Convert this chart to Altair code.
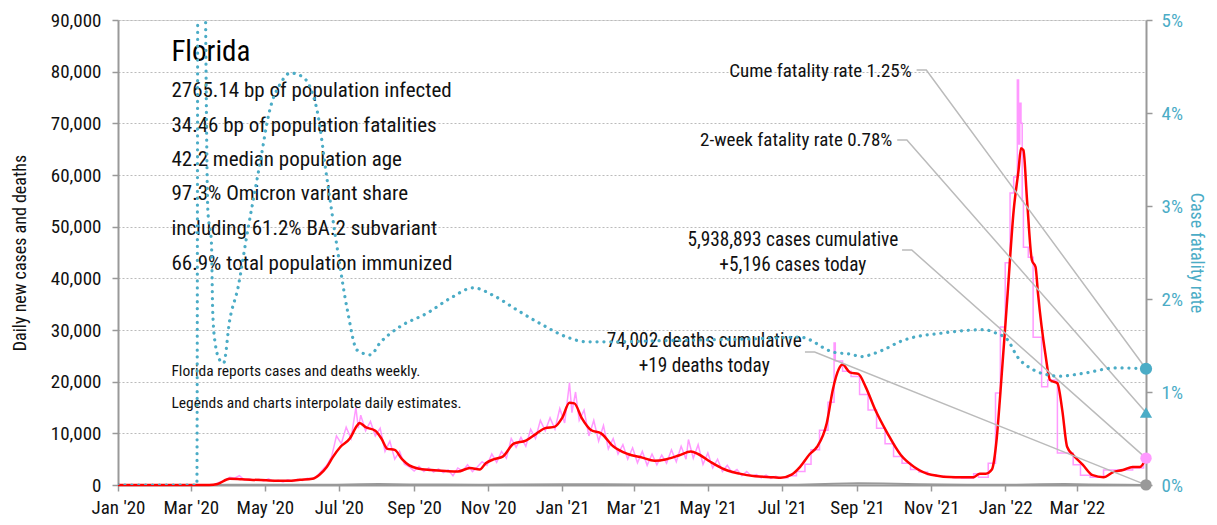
import altair as alt
import pandas as pd

BASE = pd.Timestamp("2020-01-01")


def to_dates(days):
    return [(BASE + pd.Timedelta(days=int(x))).strftime("%Y-%m-%d") for x in days]


# ---------------- data (day offsets from 2020-01-01) ----------------
red_days = [0, 75, 82, 92, 102, 122, 140, 150, 160, 166, 172, 177, 183, 191, 197, 199, 204, 212,
            217, 222, 228, 234, 240, 247, 258, 270, 280, 290, 298, 303, 310, 317, 326, 336, 345,
            352, 360, 366, 372, 376, 382, 390, 398, 408, 420, 432, 442, 452, 462, 472, 478, 488,
            500, 512, 525, 540, 546, 555, 562, 570, 576, 584, 589, 594, 597, 603, 610, 616, 624,
            634, 645, 656, 670, 690, 705, 710, 715, 720, 724, 727, 733, 738, 742, 744, 746, 749,
            753, 756, 758, 764, 768, 774, 778, 782, 787, 795, 803, 812, 820, 828, 836, 842, 847]
red_vals = [0, 0, 200, 1200, 1100, 900, 800, 1000, 1200, 2000, 3500, 5400, 7300, 9000, 11500,
            12000, 11200, 10500, 9000, 7000, 6800, 5000, 3800, 3200, 2900, 2700, 2600, 3300, 3000,
            4200, 5000, 5500, 8000, 8600, 10000, 11000, 11300, 13000, 15900, 15800, 13000, 10600,
            10000, 7500, 6000, 5300, 4700, 5000, 5700, 6500, 6000, 4500, 3000, 2200, 1700, 1500,
            1400, 2000, 3500, 6000, 7400, 12000, 18500, 22500, 23300, 21800, 21500, 19000, 14500,
            10000, 5800, 3500, 2000, 1500, 1500, 2200, 2200, 3000, 9000, 17800, 37100, 53200,
            61000, 65200, 64800, 55100, 43500, 42200, 37100, 25500, 20300, 19700, 14500, 7400,
            5800, 3900, 1900, 1500, 2500, 2900, 3500, 3500, 5196]

pink_days = [0, 78, 80, 84, 88, 92, 96, 100, 104, 108, 112, 116, 120, 124, 128, 132, 136, 140, 144,
             148, 152, 156, 160, 164, 168, 172, 176, 180, 184, 188, 192, 196, 198, 200, 204, 208,
             212, 216, 220, 224, 228, 232, 236, 240, 244, 248, 252, 256, 260, 264, 268, 272, 276,
             280, 284, 288, 292, 296, 300, 304, 308, 312, 316, 320, 324, 328, 332, 336, 340, 344,
             348, 352, 356, 360, 364, 368, 372, 374, 377, 380, 384, 388, 392, 396, 400, 404, 408,
             412, 416, 420, 424, 428, 432, 436, 440, 444, 448, 452, 456, 460, 464, 468, 470, 474,
             478, 482, 486, 490, 494, 498, 502, 506, 510, 514, 518, 522, 526, 530, 534, 538, 542,
             545]
pink_vals = [0, 0, 100, 600, 900, 1500, 1300, 1800, 1000, 1200, 900, 1100, 800, 1200, 700, 900,
             600, 1000, 700, 1100, 900, 1300, 1200, 1700, 2800, 3800, 5500, 9500, 8000, 11200,
             9000, 15000, 11000, 13500, 10500, 12300, 9500, 11000, 6500, 8500, 5000, 6500, 4000,
             3500, 2700, 3600, 2600, 3300, 2500, 3100, 2400, 2900, 1800, 3300, 2700, 3900, 2600,
             3500, 4500, 3800, 6000, 4400, 6500, 5200, 9000, 7300, 9200, 7500, 10800, 9000, 12500,
             10500, 13000, 10800, 14800, 12000, 19800, 14000, 18000, 12500, 14500, 9500, 12500,
             8500, 11500, 7000, 9000, 6000, 7800, 5000, 7200, 4300, 6500, 3800, 6000, 3900, 5800,
             4200, 6800, 4500, 7500, 5000, 8800, 5200, 7800, 4000, 6200, 3300, 5000, 2600, 3800,
             2400, 3000, 1800, 2600, 1700, 2000, 1400, 1900, 1300, 1700, 1400]

step_days = [545, 552, 559, 566, 571, 578, 585, 590, 591, 597, 604, 611, 618, 625, 632, 639, 646,
             653, 660, 667, 674, 681, 688, 695, 702, 705, 709, 717, 723, 727, 731, 735, 738, 741,
             742, 743, 744, 745, 746, 750, 754, 761, 766, 774, 787, 793, 801, 812, 836, 845, 847]
step_vals = [1400, 1800, 2600, 4000, 6800, 10600, 16000, 27500, 24000, 22000, 21000, 17500, 14500,
             11000, 8000, 5500, 4200, 3000, 2500, 2000, 1700, 1500, 1400, 1300, 1300, 2200, 1500,
             4200, 17800, 30600, 43000, 56500, 59600, 78400, 66000, 73900, 70000, 55000, 46000,
             44100, 28600, 19000, 20300, 6200, 3900, 1900, 1500, 2900, 3300, 5196, 5196]

death_days = [0, 75, 90, 110, 150, 180, 200, 215, 240, 270, 300, 330, 370, 400, 430, 470, 520,
              560, 590, 610, 630, 660, 700, 740, 760, 780, 800, 830, 847]
death_vals = [0, 0, 30, 50, 40, 60, 150, 180, 120, 90, 60, 90, 160, 150, 100, 60, 40, 60, 250,
              350, 300, 150, 40, 60, 150, 200, 100, 40, 19]

cfr_days = [0, 65, 66, 71, 72, 74, 77, 78, 80, 84, 87, 92, 99, 106, 117, 125, 134, 142, 152, 164,
            172, 180, 189, 197, 208, 216, 232, 255, 274, 293, 309, 329, 350, 370, 386, 411, 440,
            480, 520, 562, 589, 606, 611, 630, 644, 653, 677, 713, 724, 733, 741, 754, 768, 776,
            795, 823, 847]
cfr_vals = [0, 0, 7.0, 7.0, 5.3, 2.96, 2.6, 1.88, 1.53, 1.34, 1.31, 1.77, 2.13, 2.67, 3.46, 4.03,
            4.32, 4.43, 4.39, 4.03, 3.31, 2.60, 1.88, 1.45, 1.40, 1.53, 1.70, 1.85, 2.01, 2.12,
            2.04, 1.88, 1.72, 1.59, 1.54, 1.54, 1.55, 1.56, 1.57, 1.59, 1.43, 1.40, 1.38, 1.45,
            1.54, 1.58, 1.63, 1.67, 1.63, 1.56, 1.38, 1.24, 1.18, 1.17, 1.20, 1.26, 1.25]

# x tick marks: (year, month) every two months
x_ticks = [(2020, 1), (2020, 3), (2020, 5), (2020, 7), (2020, 9), (2020, 11),
           (2021, 1), (2021, 3), (2021, 5), (2021, 7), (2021, 9), (2021, 11),
           (2022, 1), (2022, 3)]
y_ticks = [0, 10000, 20000, 30000, 40000, 50000, 60000, 70000, 80000, 90000]
p_ticks = [0, 1, 2, 3, 4, 5]

# info block (left)
info_text = ["2765.14 bp of population infected", "34.46 bp of population fatalities",
             "42.2 median population age", "97.3% Omicron variant share",
             "including 61.2% BA.2 subvariant", "66.9% total population immunized"]
info_y = [76250, 69480, 62900, 56320, 49550, 42770]
note_text = ["Florida reports cases and deaths weekly.",
             "Legends and charts interpolate daily estimates."]
note_y = [22060, 15870]
title_text = "Florida"
title_y = 83800
block_day = 44

# right-side annotations
rate_text = ["Cume fatality rate 1.25%", "2-week fatality rate 0.78%"]
rate_day = [654, 638]
rate_y = [80130, 66770]
total_text = ["5,938,893 cases cumulative", "+5,196 cases today",
              "74,002 deaths cumulative", "+19 deaths today"]
total_day = [556, 556, 483, 483]
total_y = [47420, 42580, 27870, 23030]

# leader lines: start, elbow, end
leader_group = ["cfr", "cfr", "cfr", "cfr2", "cfr2", "cfr2", "cases", "cases", "cases",
                "deaths", "deaths", "deaths"]
leader_day = [658, 666, 847, 642, 650, 847, 646, 654, 847, 566, 574, 847]
leader_y = [80320, 80320, 22500, 66770, 66770, 14040, 45480, 45480, 5196, 25740, 25740, 19]

end_day = 847
cases_today = 5196
deaths_today = 19
cfr_cume = 1.25
cfr_2wk = 0.78

# ---------------- styling ----------------
FONT = "'Liberation Sans Narrow', 'Roboto Condensed', 'DejaVu Sans Condensed', sans-serif"
TEAL = "#4bacc6"
PINK = "#ff99ff"
RED = "#ff0000"
GREY = "#999999"

red_df = pd.DataFrame({"date": to_dates(red_days), "v": red_vals})
pink_df = pd.DataFrame({"date": to_dates(pink_days), "v": pink_vals})
step_df = pd.DataFrame({"date": to_dates(step_days), "v": step_vals})
death_df = pd.DataFrame({"date": to_dates(death_days), "v": death_vals})
cfr_df = pd.DataFrame({"date": to_dates(cfr_days), "p": cfr_vals})
leader_df = pd.DataFrame({"date": to_dates(leader_day), "v": leader_y, "g": leader_group})
info_df = pd.DataFrame({"date": to_dates([block_day] * 6), "v": info_y, "t": info_text})
note_df = pd.DataFrame({"date": to_dates([block_day] * 2), "v": note_y, "t": note_text})
title_df = pd.DataFrame({"date": to_dates([block_day]), "v": [title_y], "t": [title_text]})
rate_df = pd.DataFrame({"date": to_dates(rate_day), "v": rate_y, "t": rate_text})
total_df = pd.DataFrame({"date": to_dates(total_day), "v": total_y, "t": total_text})
end_left_df = pd.DataFrame({"date": to_dates([end_day, end_day]), "v": [cases_today, deaths_today],
                            "c": [PINK, GREY]})
end_right_df = pd.DataFrame({"date": to_dates([end_day]), "p": [cfr_cume]})
end_tri_df = pd.DataFrame({"date": to_dates([end_day]), "p": [cfr_2wk]})

x_scale = alt.Scale(type="utc",
                    domain=[alt.DateTime(year=2020, month=1, date=1, utc=True),
                            alt.DateTime(year=2022, month=4, date=27, utc=True)])
x_axis = alt.Axis(values=[alt.DateTime(year=yy, month=mm, date=1, utc=True) for yy, mm in x_ticks],
                  labelExpr='utcFormat(datum.value, "%b \'%y")', labelOverlap=False,
                  labelFlush=False,
                  labelFontSize=19, labelColor="#111", labelFont=FONT, labelPadding=7,
                  tickColor=GREY, tickSize=6, tickWidth=1.5, domainColor=GREY, domainWidth=2,
                  grid=False, title=None)
X = alt.X("date:T", scale=x_scale, axis=x_axis, title=None)

y_scale = alt.Scale(domain=[0, 90000], nice=False)
y_axis = alt.Axis(values=y_ticks, labelExpr="format(datum.value, ',')", labelOverlap=False,
                  labelFontSize=19, labelColor="#111", labelFont=FONT, labelPadding=11,
                  tickColor=GREY, tickSize=6, tickWidth=1.5, domainColor=GREY, domainWidth=2,
                  grid=True, gridColor="#bbbbbb", gridDash=[2, 2], gridWidth=1,
                  titleFont=FONT, titleFontSize=18, titleFontWeight="normal", titleColor="#111",
                  titlePadding=21)
Y = alt.Y("v:Q", scale=y_scale, axis=y_axis, title="Daily new cases and deaths")

p_scale = alt.Scale(domain=[0, 5], nice=False)
p_axis = alt.Axis(orient="right", values=p_ticks, labelExpr="datum.value + '%'",
                  labelFontSize=19, labelColor=TEAL, labelFont=FONT, labelPadding=9,
                  tickColor=GREY, tickSize=6, tickWidth=1.5, domainColor=GREY, domainWidth=2,
                  grid=False, titleFont=FONT, titleFontSize=18, titleFontWeight="normal",
                  titleColor=TEAL, titlePadding=4)
P = alt.Y("p:Q", scale=p_scale, axis=p_axis, title="Case fatality rate")

base_line = alt.Chart(death_df).mark_line(color=GREY, strokeWidth=2).encode(x=X, y=Y)
pink_line = alt.Chart(pink_df).mark_line(color=PINK, strokeWidth=1.5).encode(x=X, y=Y)
pink_step = alt.Chart(step_df).mark_line(color=PINK, strokeWidth=1.5,
                                         interpolate="step-after").encode(x=X, y=Y)
red_line = alt.Chart(red_df).mark_line(color=RED, strokeWidth=2.5,
                                       interpolate="monotone").encode(x=X, y=Y)
leaders = alt.Chart(leader_df).mark_line(color="#bbbbbb", strokeWidth=1.5).encode(
    x=X, y=Y, detail="g:N")
end_pts = alt.Chart(end_left_df).mark_circle(size=130, opacity=1).encode(
    x=X, y=Y, color=alt.Color("c:N", scale=None))

title_txt = alt.Chart(title_df).mark_text(align="left", baseline="middle", font=FONT,
                                          fontSize=29, color="#000").encode(x=X, y=Y, text="t:N")
info_txt = alt.Chart(info_df).mark_text(align="left", baseline="middle", font=FONT,
                                        fontSize=21, color="#111").encode(x=X, y=Y, text="t:N")
note_txt = alt.Chart(note_df).mark_text(align="left", baseline="middle", font=FONT,
                                        fontSize=15.5, color="#111").encode(x=X, y=Y, text="t:N")
rate_txt = alt.Chart(rate_df).mark_text(align="right", baseline="middle", font=FONT,
                                        fontSize=19, color="#111").encode(x=X, y=Y, text="t:N")
total_txt = alt.Chart(total_df).mark_text(align="center", baseline="middle", font=FONT,
                                          fontSize=19.3, color="#111").encode(x=X, y=Y, text="t:N")

left = alt.layer(base_line, pink_line, pink_step, red_line, leaders, title_txt, info_txt,
                 note_txt, rate_txt, total_txt, end_pts)

cfr_line = alt.Chart(cfr_df).mark_line(color=TEAL, strokeWidth=3.2, strokeDash=[0.1, 6.8],
                                       strokeCap="round", interpolate="monotone",
                                       clip=True).encode(x=X, y=P)
cfr_pt = alt.Chart(end_right_df).mark_circle(size=150, color=TEAL, opacity=1).encode(x=X, y=P)
cfr_tri = alt.Chart(end_tri_df).mark_point(shape="triangle-up", size=150, color=TEAL, filled=True,
                                           opacity=1).encode(x=X, y=P)
right = alt.layer(cfr_line, cfr_pt, cfr_tri)

chart = alt.layer(left, right).resolve_scale(y="independent").properties(
    width=1028, height=465,
    autosize=alt.AutoSizeParams(type="none"),
    padding={"left": 110, "top": 12, "right": 63, "bottom": 38},
).configure_view(stroke=None).configure(font=FONT)

chart.save("out.html", embed_options={"renderer": "svg", "actions": False})
